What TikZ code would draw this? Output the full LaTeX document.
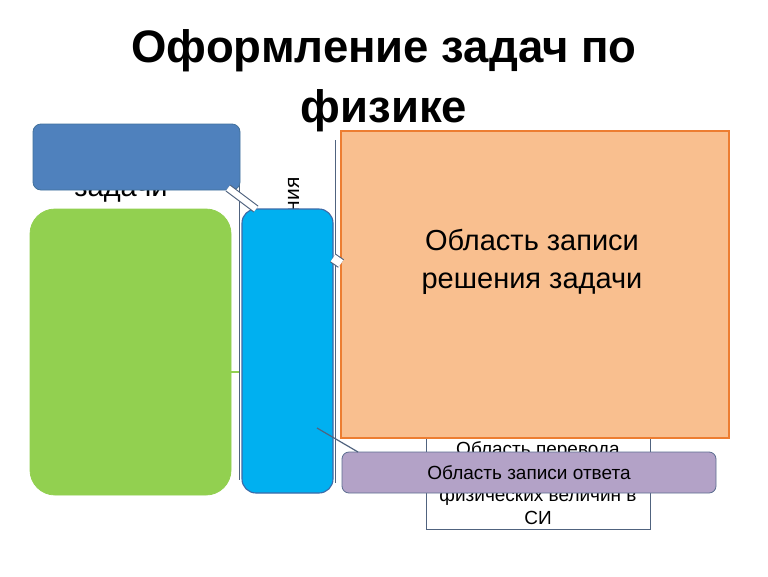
\documentclass[tikz,border=0pt]{standalone}
\usepackage{fontspec}
\setmainfont{Liberation Sans}
\definecolor{condblue}{HTML}{4F81BD}
\definecolor{condedge}{HTML}{41719C}
\definecolor{givengreen}{HTML}{92D050}
\definecolor{unitcyan}{HTML}{00B0F0}
\definecolor{unitedge}{HTML}{3C6AA8}
\definecolor{solvefill}{HTML}{F9BF8F}
\definecolor{solveedge}{HTML}{ED7D31}
\definecolor{answerfill}{HTML}{B3A2C7}
\definecolor{answeredge}{HTML}{5C6E91}
\definecolor{linegray}{HTML}{50637F}
\tikzstyle{block} = [rectangle, draw, line width=0.8pt, outer sep=0pt, inner sep=0pt, align=center]
\tikzstyle{frame} = [rectangle, draw=linegray, line width=0.8pt, outer sep=0pt, inner sep=0pt]
\tikzstyle{guide} = [draw=linegray, line width=1pt]
\tikzstyle{line} = [draw=linegray, line width=1.2pt]
\tikzstyle{twoline} = [draw=linegray, line width=1.1pt, double=white, double distance=6pt]

\begin{document}
\begin{tikzpicture}[x=1pt, y=-1pt]
\useasboundingbox [fill=white] (0,0) rectangle (768,576);

% title
\node [anchor=base, font=\fontsize{45.5}{54}\selectfont\bfseries] at (384, 62) (title) {Оформление задач по};
\node [anchor=base, font=\fontsize{45.5}{54}\selectfont\bfseries] at (384, 122) (title2) {физике};

% left column
\node [anchor=base, font=\fontsize{29}{35}\selectfont] at (121, 196) (condtext) {задачи};
\draw [guide] (239, 140) -- (239, 480);
\draw [guide] (335, 140) -- (335, 483);
\node [rotate=90, anchor=base east, font=\fontsize{21}{24}\selectfont] at (299, 174) (rottext) {ния};
\node [block, draw=condedge, fill=condblue, rounded corners=8pt, minimum width=207, minimum height=66] at (136.5, 157) (cond) {};
\node [block, draw=givengreen, fill=givengreen, rounded corners=25pt, minimum width=201, minimum height=286] at (130.5, 352) (given) {};
\node [block, draw=unitedge, fill=unitcyan, line width=1.1pt, rounded corners=14pt, minimum width=91, minimum height=284] at (287.5, 351) (units) {};
\draw [draw=givengreen, line width=1.2pt] (given.east |- 0, 372) -- (239, 372);

% right column
\node [frame, fill=white, minimum width=224, minimum height=129] at (538, 464.5) (convert) {};
\node [anchor=base, align=center, font=\fontsize{19}{23}\selectfont] at (538, 524) (converttext) {Область перевода\\ \mbox{}\\ физических величин в\\ СИ};
\node [block, draw=solveedge, fill=solvefill, line width=1.5pt, minimum width=388, minimum height=307] at (535, 284.5) (solve) {};
\node [align=center, font=\fontsize{29}{38}\selectfont] at (532, 262) (solvetext) {Область записи\\решения задачи};
\path [twoline, double distance=8pt] ([yshift=93pt]units.east) to ([yshift=21pt]solve.west);
\node [block, draw=answeredge, fill=answerfill, rounded corners=7pt, minimum width=374, minimum height=41, font=\fontsize{19}{23}\selectfont] at (529, 472.5) (answer) {Область записи ответа};
\path [line] ([xshift=-16pt, yshift=65pt]units.south east) to ([xshift=16pt]answer.north west);

% links
\path [twoline] ([xshift=-12pt, yshift=2pt]cond.south east) to ([xshift=14pt]units.north west);

\end{tikzpicture}
\end{document}
